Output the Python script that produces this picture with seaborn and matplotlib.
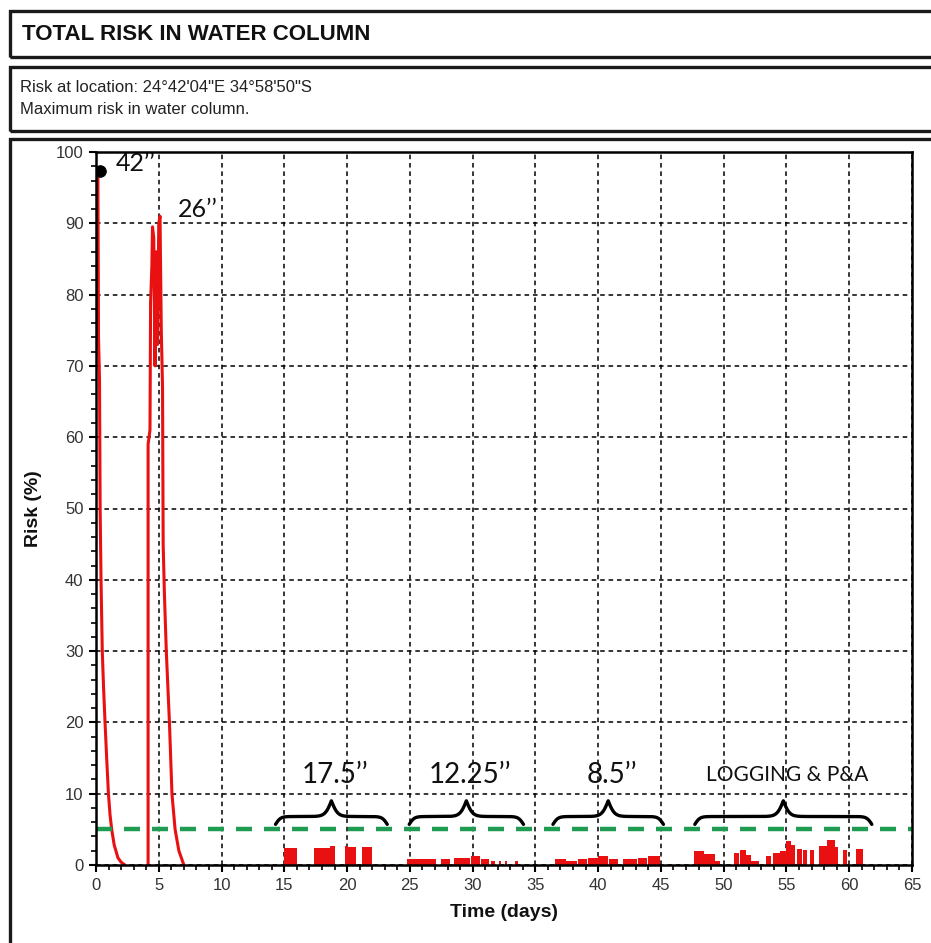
import numpy as np
import matplotlib
matplotlib.use("Agg")
import matplotlib.pyplot as plt
import seaborn as sns
from matplotlib.patches import Rectangle

# ---------------- data ----------------
# first peak (42'' section)
peak1_time = [0.0, 0.15, 0.2, 0.28, 0.33, 0.4, 0.5, 0.6, 0.72, 0.85, 0.99, 1.12, 1.25, 1.45, 1.75, 2.0, 2.3]
peak1_risk = [97.5, 97.0, 74.0, 68.0, 50.0, 40.0, 30.0, 25.0, 20.0, 15.0, 10.0, 7.0, 5.0, 2.8, 1.0, 0.4, 0.0]
# second peak (26'' section)
peak2_time = [4.15, 4.15, 4.3, 4.35, 4.45, 4.5, 4.6, 4.7, 4.8, 4.9, 5.0, 5.1, 5.2, 5.3, 5.35, 5.45, 5.6,
              5.85, 6.05, 6.3, 6.6, 7.0]
peak2_risk = [0.0, 59.0, 61.0, 79.0, 84.0, 89.5, 88.0, 70.0, 86.0, 73.0, 90.0, 91.0, 75.0, 67.0, 45.0, 38.0, 30.0,
              20.0, 10.0, 5.0, 2.0, 0.0]
dot_time = [0.32]
dot_risk = [97.4]

threshold = 5.0

# 17.5'' section (start, end, risk)
s175_start = [15.0, 17.4, 18.6, 19.8, 20.1, 21.2]
s175_end   = [16.0, 18.6, 19.0, 20.1, 20.7, 22.0]
s175_risk  = [2.4, 2.4, 2.6, 2.6, 2.5, 2.5]

# 12.25'' section
s1225_start = [24.8, 27.5, 28.5, 29.9, 30.7, 31.5, 32.1, 32.6, 33.4]
s1225_end   = [27.1, 28.2, 29.8, 30.6, 31.3, 31.8, 32.3, 32.7, 33.6]
s1225_risk  = [0.9, 0.9, 1.0, 1.2, 0.8, 0.6, 0.6, 0.5, 0.5]

# 8.5'' section
s85_start = [36.6, 37.4, 38.4, 39.2, 40.0, 40.9, 42.0, 43.2, 44.0]
s85_end   = [37.4, 38.3, 39.1, 40.0, 40.8, 41.6, 43.1, 43.9, 44.9]
s85_risk  = [0.8, 0.6, 0.9, 1.0, 1.2, 0.8, 0.9, 1.0, 1.3]

# logging & P&A section
slog_start = [47.6, 48.4, 49.3, 50.8, 51.3, 51.8, 52.2, 53.4, 53.9, 54.5, 55.0, 55.4, 55.8, 56.3, 56.9,
              57.6, 58.2, 58.9, 59.5, 60.5]
slog_end   = [48.4, 49.3, 49.7, 51.2, 51.8, 52.2, 52.8, 53.8, 54.5, 55.0, 55.4, 55.7, 56.2, 56.6, 57.2,
              58.2, 58.9, 59.1, 59.8, 61.1]
slog_risk  = [1.9, 1.5, 0.5, 1.7, 2.1, 1.4, 0.6, 1.3, 1.7, 2.0, 3.4, 2.8, 2.3, 2.1, 2.1,
              2.7, 3.5, 2.5, 2.1, 2.2]

section_labels = ["17.5\u2019\u2019", "12.25\u2019\u2019", "8.5\u2019\u2019", "LOGGING & P&A"]
section_from = [14.3, 24.95, 36.4, 47.7]
section_to = [23.2, 34.05, 45.2, 61.8]
peak_labels = ["42\u2019\u2019", "26\u2019\u2019"]

title = "TOTAL RISK IN WATER COLUMN"
subtitle1 = "Risk at location: 24\u00b042'04\"E 34\u00b058'50\"S"
subtitle2 = "Maximum risk in water column."

# ---------------- style ----------------
sns.set_theme(style="white")
plt.rcParams["font.family"] = ["Liberation Sans", "DejaVu Sans"]

W, H = 931, 943
fig = plt.figure(figsize=(W / 100, H / 100), dpi=100)
fig.patch.set_facecolor("white")

def fx(px):
    return px / W

def fy(py):
    return 1 - py / H

# header boxes
box_col = "#1a1a1a"
fig.patches.append(Rectangle((fx(10), fy(57)), 1.2, (57 - 11) / H, transform=fig.transFigure,
                             fill=False, lw=2.4, ec=box_col))
fig.patches.append(Rectangle((fx(10), fy(131)), 1.2, (131 - 67) / H, transform=fig.transFigure,
                             fill=False, lw=2.4, ec=box_col))
fig.patches.append(Rectangle((fx(10), fy(1000)), 1.2, (1000 - 139) / H, transform=fig.transFigure,
                             fill=False, lw=2.4, ec=box_col))
fig.text(fx(22), fy(34), title, fontsize=16, fontweight="bold",
         va="center", ha="left", color="#111")
fig.text(fx(20), fy(88), subtitle1, fontsize=12, va="center", ha="left", color="#222")
fig.text(fx(20), fy(110), subtitle2, fontsize=12, va="center", ha="left", color="#222")

ax = fig.add_axes([fx(96), fy(865), (912 - 96) / W, (865 - 152) / H])
ax.set_facecolor("white")

red = "#e81010"
ax.set_axisbelow(True)

# bars
for st, en, rk in [(s175_start, s175_end, s175_risk), (s1225_start, s1225_end, s1225_risk),
                   (s85_start, s85_end, s85_risk), (slog_start, slog_end, slog_risk)]:
    st = np.array(st); en = np.array(en)
    ax.bar(st, rk, width=en - st, align="edge", color=red, linewidth=0, zorder=3)

# main curves
sns.lineplot(x=peak1_time, y=peak1_risk, sort=False, estimator=None, color=red, lw=2.2, ax=ax, zorder=4)
sns.lineplot(x=peak2_time, y=peak2_risk, sort=False, estimator=None, color=red, lw=2.2, ax=ax, zorder=4)
sns.scatterplot(x=dot_time, y=dot_risk, color="black", s=70, ax=ax, zorder=6, edgecolor="black")

# threshold
ax.axhline(threshold, color="#1e9c52", lw=3.2, ls=(0, (3.6, 2.7)), zorder=5)

# braces
def brace(x0, x1, base=4.6, a=2.2, c=4.4, b1=5.0, b2=4.0):
    mid = 0.5 * (x0 + x1)
    xl = np.linspace(x0, mid, 200)
    yl = a / (1 + np.exp(-b1 * (xl - x0))) + c / (1 + np.exp(-b2 * (xl - mid)))
    xr = np.linspace(mid, x1, 200)
    yr = a / (1 + np.exp(b1 * (xr - x1))) + c / (1 + np.exp(b2 * (xr - mid)))
    xs = np.concatenate([xl, xr])
    ys = base + np.concatenate([yl, yr])
    ax.plot(xs, ys, color="black", lw=2.4, zorder=6, solid_capstyle="round")

lab_font = ["Lato", "Open Sans", "DejaVu Sans"]
for lab, a0, a1 in zip(section_labels, section_from, section_to):
    brace(a0, a1)
    fs = 15 if "LOGGING" in lab else 20
    ax.text(0.5 * (a0 + a1) + 0.3, 12.6, lab, ha="center", va="center", fontsize=fs,
            family=lab_font, color="#111", zorder=7)

ax.text(1.6, 98.4, peak_labels[0], ha="left", va="center", fontsize=18, family=lab_font, color="#111", zorder=7)
ax.text(6.5, 92.0, peak_labels[1], ha="left", va="center", fontsize=18, family=lab_font, color="#111", zorder=7)

# axes
ax.set_xlim(0, 65)
ax.set_ylim(0, 100)
ax.set_xticks(np.arange(0, 66, 5))
ax.set_yticks(np.arange(0, 101, 10))
ax.set_xticks(np.arange(0, 66, 1), minor=True)
ax.set_yticks(np.arange(0, 101, 2), minor=True)
ax.grid(True, which="major", color="black", lw=1.1, ls=(0, (3, 2.5)))
ax.grid(False, which="minor")
for sp in ax.spines.values():
    sp.set_visible(True)
    sp.set_color("black")
    sp.set_linewidth(1.8)
    sp.set_zorder(8)
ax.tick_params(which="major", direction="out", length=5, width=1.5, color="black",
               labelsize=12, labelcolor="#333", pad=4, bottom=True, left=True)
ax.tick_params(which="minor", direction="out", length=3.5, width=1.2, color="black",
               bottom=True, left=True)
ax.set_xlabel("Time (days)", fontsize=14, fontweight="bold", color="#111", labelpad=8)
ax.set_ylabel("Risk (%)", fontsize=14, fontweight="bold", color="#111", labelpad=10)

fig.savefig("out.png", dpi=100)
